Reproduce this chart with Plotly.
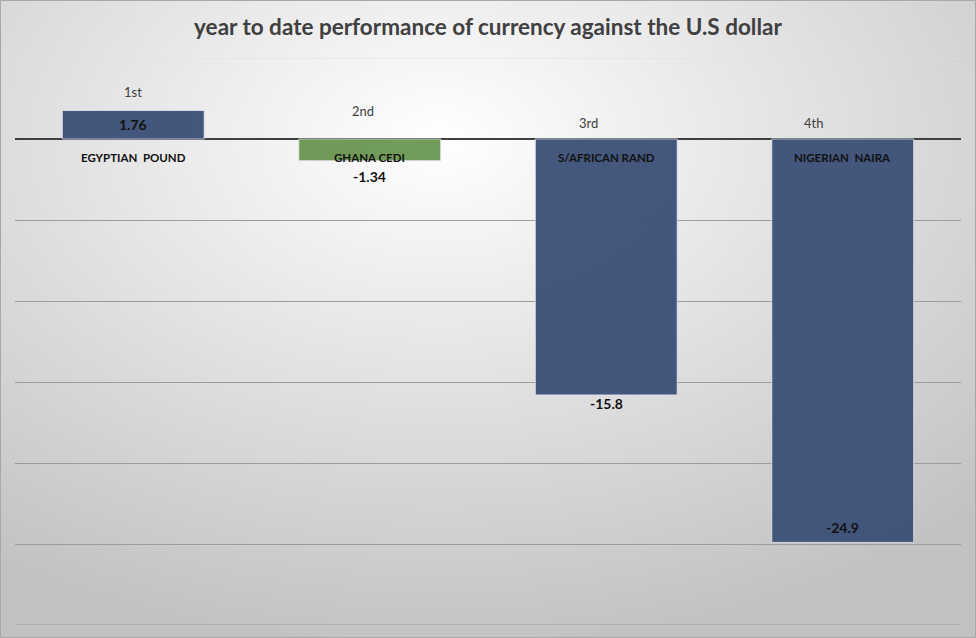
import base64
import plotly.graph_objects as go

# ---- data ----
currencies = ["EGYPTIAN  POUND", "GHANA CEDI", "S/AFRICAN RAND", "NIGERIAN  NAIRA"]
values = [1.76, -1.34, -15.8, -24.9]
ranks = ["1st", "2nd", "3rd", "4th"]
title_text = "year to date performance of currency against the U.S dollar"

# ---- style ----
bar_colors = ["#3b4f77", "#6a9650", "#3b4f77", "#3b4f77"]
rank_shift = [(0, 18), (-7, 28), (-18, 16), (-29, 16)]   # (xshift, yshift) px
value_pos = [("mid", 0), ("end", -16), ("end", -9), ("end", 15)]

W, H = 976, 638
ml, mr, mt, mb = 15, 15, 58, 13
pw, ph = W - ml - mr, H - mt - mb

svg = (
    f'<svg xmlns="http://www.w3.org/2000/svg" width="{W}" height="{H}">'
    '<defs><radialGradient id="g" cx="0.45" cy="0.22" r="0.8">'
    '<stop offset="0" stop-color="#ffffff"/><stop offset="1" stop-color="#c2c2c2"/>'
    '</radialGradient></defs>'
    f'<rect width="{W}" height="{H}" fill="url(#g)"/></svg>'
)
bg_src = "data:image/svg+xml;base64," + base64.b64encode(svg.encode()).decode()

fig = go.Figure()
fig.add_trace(go.Bar(
    x=currencies, y=values,
    marker=dict(color=bar_colors, opacity=0.95, line=dict(color="rgba(235,235,245,0.8)", width=1)),
    hoverinfo="skip",
))

annotations = []
label_font = dict(family="Lato", size=11.5, color="#111111")
for c, v, r, (xs, ys), (vp, vs) in zip(currencies, values, ranks, rank_shift, value_pos):
    annotations.append(dict(x=c, y=max(v, 0), text=r, showarrow=False, xshift=xs, yshift=ys,
                            yanchor="middle", font=dict(family="Lato", size=13, color="#404040")))
    annotations.append(dict(x=c, y=0, text=f"<b>{c}</b>", showarrow=False, yshift=-18,
                            yanchor="middle", font=label_font))
    vf = dict(family="Lato", size=14, color="#111111")
    annotations.append(dict(x=c, y=v / 2 if vp == "mid" else v, text=f"<b>{v}</b>", showarrow=False,
                            yanchor="middle", yshift=vs, font=vf))

fig.update_layout(
    width=W, height=H,
    margin=dict(l=ml, r=mr, t=mt, b=mb),
    paper_bgcolor="#e2e2e2",
    plot_bgcolor="rgba(0,0,0,0)",
    showlegend=False,
    bargap=0.4,
    title=dict(text=f"<b>{title_text}</b>", x=0.5, xanchor="center", y=1 - 27 / H, yanchor="middle",
               font=dict(family="Lato", size=22.5, color="#404040")),
    xaxis=dict(showticklabels=False, showgrid=False, zeroline=False, showline=False, ticks=""),
    yaxis=dict(range=[-30, 5], tickvals=[-25, -20, -15, -10, -5], showticklabels=False,
               gridcolor="#9c9c9c", gridwidth=1, zeroline=True, zerolinecolor="#404040",
               zerolinewidth=2, showline=False, ticks=""),
    annotations=annotations,
    images=[dict(source=bg_src, xref="paper", yref="paper", x=-ml / pw, y=1 + mt / ph,
                 sizex=W / pw, sizey=H / ph, sizing="stretch", xanchor="left", yanchor="top",
                 layer="below")],
    shapes=[
        dict(type="line", xref="paper", yref="y", x0=0, x1=1, y0=5, y1=5,
             line=dict(color="#e0e0e0", width=1), layer="below"),
        dict(type="line", xref="paper", yref="y", x0=0, x1=1, y0=-30, y1=-30,
             line=dict(color="#9c9c9c", width=1), layer="below"),
        dict(type="rect", xref="paper", yref="paper", x0=-ml / pw + 0.5 / pw, x1=1 + mr / pw - 0.5 / pw,
             y0=-mb / ph + 0.5 / ph, y1=1 + mt / ph - 0.5 / ph,
             line=dict(color="#a8a8a8", width=1), fillcolor="rgba(0,0,0,0)"),
    ],
)

fig.write_html("out.html")
